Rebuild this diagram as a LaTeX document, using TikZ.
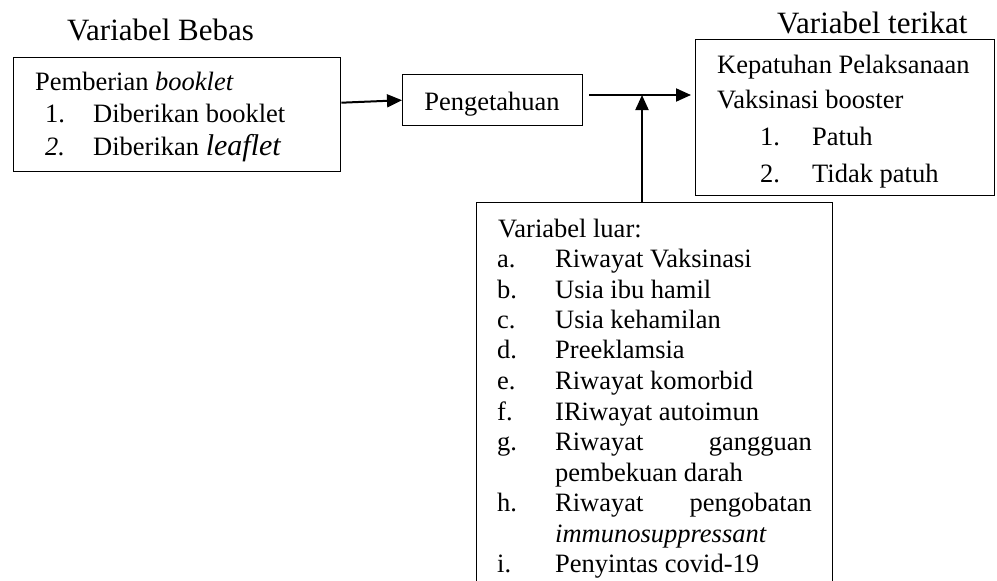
\documentclass[tikz,border=0pt]{standalone}
\usepackage{fontspec}
\setmainfont{Liberation Serif}
\usetikzlibrary{arrows.meta}
\newcommand{\bodyf}{\fontsize{26.5}{30}\selectfont}
\newcommand{\headf}{\fontsize{31}{36}\selectfont}
\begin{document}
\begin{tikzpicture}[x=1pt,y=-1pt,
  box/.style={draw,line width=1.4pt,inner sep=0,anchor=north west},
  txt/.style={inner sep=0,anchor=base west,font=\bodyf},
  txtr/.style={inner sep=0,anchor=base east,font=\bodyf},
  head/.style={inner sep=0,anchor=base west,font=\headf},
  arr/.style={line width=2pt,-{Triangle[length=15pt,width=13pt]}}]
\useasboundingbox (0,0) rectangle (997,581);
\clip (0,0) rectangle (997,581);
\fill[white] (0,0) rectangle (997,581);
% headings
\node[head] (h1) at (67,40) {Variabel Bebas};
\node[head] (h2) at (777,33) {Variabel terikat};
% boxes
\node[box,minimum width=327pt,minimum height=114pt] (b1) at (13,57) {};
\node[box,minimum width=180pt,minimum height=51pt] (peng) at (402,74) {};
\node[box,minimum width=299pt,minimum height=156pt] (b3) at (695,39) {};
\node[box,minimum width=356pt,minimum height=420pt] (b4) at (476,202) {};
% box 1 text
\node[txt] (t11) at (35,90) {Pemberian \textit{booklet}};
\node[txt] (t12a) at (45,122) {1.};
\node[txt] (t12b) at (93,122) {Diberikan booklet};
\node[txt] (t13a) at (45,155) {\textit{2.}};
\node[txt] (t13b) at (93,155) {Diberikan \fontsize{30}{34}\selectfont\textit{leaflet}};
% pengetahuan
\node[inner sep=0,anchor=base,font=\bodyf] (pt) at (492,110) {Pengetahuan};
% box 3 text
\node[txt] (t31) at (717,73) {Kepatuhan Pelaksanaan};
\node[txt] (t32) at (717,108) {Vaksinasi booster};
\node[txt] (t33a) at (760,145) {1.};
\node[txt] (t33b) at (812,145) {Patuh};
\node[txt] (t34a) at (760,182) {2.};
\node[txt] (t34b) at (812,182) {Tidak patuh};
% box 4 text
\node[txt] (t40) at (498,237) {Variabel luar:};
\node[txt] (la) at (497,267) {a.};
\node[txt] (ia) at (555,267) {Riwayat Vaksinasi};
\node[txt] (lb) at (497,298) {b.};
\node[txt] (ib) at (555,298) {Usia ibu hamil};
\node[txt] (lc) at (497,328) {c.};
\node[txt] (ic) at (555,328) {Usia kehamilan};
\node[txt] (ld) at (497,358) {d.};
\node[txt] (id) at (555,358) {Preeklamsia};
\node[txt] (le) at (497,389) {e.};
\node[txt] (ie) at (555,389) {Riwayat komorbid};
\node[txt] (lf) at (497,420) {f.};
\node[txt] (if) at (555,420) {IRiwayat autoimun};
\node[txt] (lg) at (497,450) {g.};
\node[txt] (ig) at (555,450) {Riwayat};
\node[txtr] (ig2) at (812,450) {gangguan};
\node[txt] (ig3) at (555,481) {pembekuan darah};
\node[txt] (lh) at (497,511) {h.};
\node[txt] (ih) at (555,511) {Riwayat};
\node[txtr] (ih2) at (812,511) {pengobatan};
\node[txt] (ih3) at (555,542) {\textit{immunosuppressant}};
\node[txt] (li) at (497,572) {i.};
\node[txt] (ii) at (555,572) {Penyintas covid-19};
% connectors
\coordinate (j) at (642,95);
\draw[arr] ([yshift=12pt]b1.east) -- (peng.west);
\path ([xshift=6pt]peng.east) coordinate (pe);
\path ([xshift=-4pt]b3.west) coordinate (bw);
\draw[arr] (pe |- j) -- (bw |- j);
\draw[arr] (j |- b4.north) -- (j);
\end{tikzpicture}
\end{document}
